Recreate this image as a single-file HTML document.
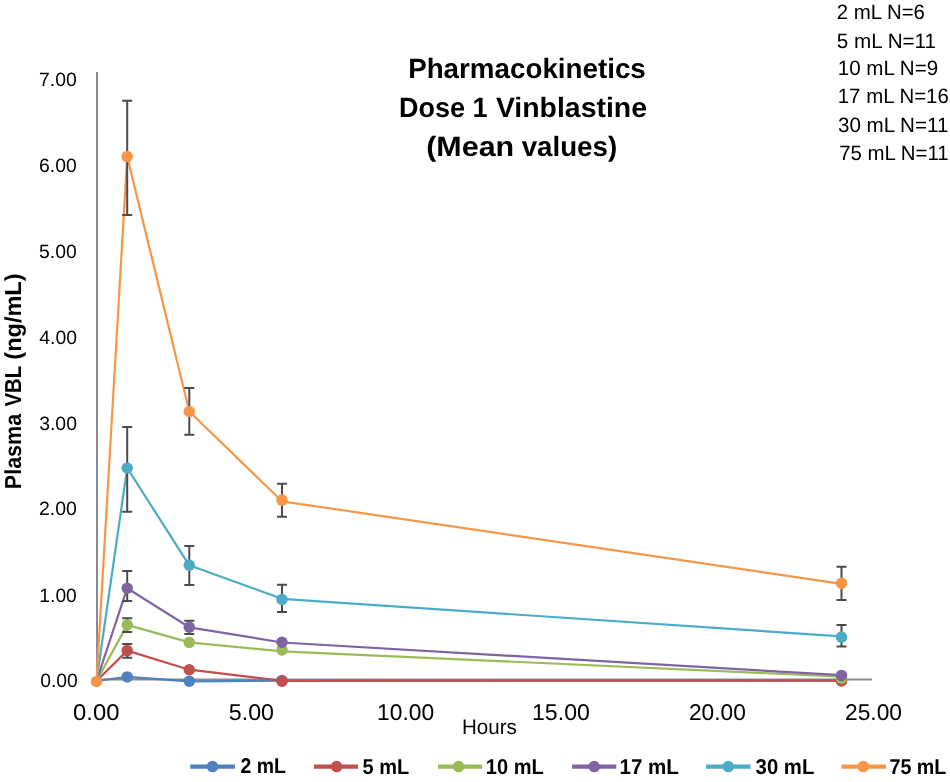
<!DOCTYPE html>
<html><head><meta charset="utf-8"><title>Pharmacokinetics Dose 1 Vinblastine</title><style>
html,body{margin:0;padding:0;background:#fff;}
body{width:950px;height:782px;overflow:hidden;}
svg{display:block;will-change:transform;}
text{font-family:"Liberation Sans",sans-serif;fill:#000;text-rendering:geometricPrecision;}
</style></head><body>
<svg width="950" height="782" viewBox="0 0 950 782">
<rect x="0" y="0" width="950" height="782" fill="#fff"/>
<rect x="96" y="72" width="2" height="609" fill="#8a8b90"/>
<rect x="96" y="678.5" width="776" height="2" fill="#8a8b90"/>
<polyline points="96.5,681 127.2,676.9 189.3,681.3 282.0,680.6 841.5,680.6" fill="none" stroke="#4f81bd" stroke-width="2.2" stroke-linejoin="round"/>
<polyline points="96.5,681 127.2,650.6 189.3,669.7 282.0,680.8 841.5,680.6" fill="none" stroke="#c0504d" stroke-width="2.2" stroke-linejoin="round"/>
<polyline points="96.5,681 127.2,624.9 189.3,642.4 282.0,651.3 841.5,676.6" fill="none" stroke="#9bbb59" stroke-width="2.2" stroke-linejoin="round"/>
<polyline points="96.5,681 127.2,588.2 189.3,627.3 282.0,642.5 841.5,675.2" fill="none" stroke="#8064a2" stroke-width="2.2" stroke-linejoin="round"/>
<polyline points="96.5,681 127.2,468 189.3,565.3 282.0,598.8 841.5,636.4" fill="none" stroke="#4bacc6" stroke-width="2.2" stroke-linejoin="round"/>
<polyline points="96.5,681.4 127.2,156.6 189.3,411.5 282.0,501.3 841.5,583.9" fill="none" stroke="#f79646" stroke-width="2.2" stroke-linejoin="round"/>
<path d="M127.2,644.1V657.8M122.2,644.1H132.2M122.2,657.8H132.2" stroke="#4a4b4f" stroke-width="2" fill="none"/>
<path d="M127.2,618.2V632M122.2,618.2H132.2M122.2,632H132.2" stroke="#4a4b4f" stroke-width="2" fill="none"/>
<path d="M127.2,570.9V601.1M122.2,570.9H132.2M122.2,601.1H132.2" stroke="#4a4b4f" stroke-width="2" fill="none"/>
<path d="M189.3,620.7V634M184.3,620.7H194.3M184.3,634H194.3" stroke="#4a4b4f" stroke-width="2" fill="none"/>
<path d="M127.2,426.9V511.7M122.2,426.9H132.2M122.2,511.7H132.2" stroke="#4a4b4f" stroke-width="2" fill="none"/>
<path d="M189.3,545.9V585M184.3,545.9H194.3M184.3,585H194.3" stroke="#4a4b4f" stroke-width="2" fill="none"/>
<path d="M282.0,584.8V612M277.0,584.8H287.0M277.0,612H287.0" stroke="#4a4b4f" stroke-width="2" fill="none"/>
<path d="M841.5,625V646.6M836.5,625H846.5M836.5,646.6H846.5" stroke="#4a4b4f" stroke-width="2" fill="none"/>
<path d="M127.2,100.7V215M122.2,100.7H132.2M122.2,215H132.2" stroke="#4a4b4f" stroke-width="2" fill="none"/>
<path d="M189.3,387.9V434.8M184.3,387.9H194.3M184.3,434.8H194.3" stroke="#4a4b4f" stroke-width="2" fill="none"/>
<path d="M282.0,483.7V516.7M277.0,483.7H287.0M277.0,516.7H287.0" stroke="#4a4b4f" stroke-width="2" fill="none"/>
<path d="M841.5,566.8V599.9M836.5,566.8H846.5M836.5,599.9H846.5" stroke="#4a4b4f" stroke-width="2" fill="none"/>
<circle cx="127.2" cy="676.9" r="5.75" fill="#4f81bd"/>
<circle cx="189.3" cy="681.3" r="5.75" fill="#4f81bd"/>
<circle cx="282.0" cy="680.6" r="5.75" fill="#4f81bd"/>
<circle cx="841.5" cy="680.6" r="5.75" fill="#4f81bd"/>
<circle cx="127.2" cy="650.6" r="5.75" fill="#c0504d"/>
<circle cx="189.3" cy="669.7" r="5.75" fill="#c0504d"/>
<circle cx="282.0" cy="681.3" r="5.75" fill="#c0504d"/>
<circle cx="841.5" cy="681.0" r="5.75" fill="#c0504d"/>
<circle cx="127.2" cy="624.9" r="5.75" fill="#9bbb59"/>
<circle cx="189.3" cy="642.4" r="5.75" fill="#9bbb59"/>
<circle cx="282.0" cy="650.0" r="5.75" fill="#9bbb59"/>
<circle cx="841.5" cy="678.2" r="5.75" fill="#9bbb59"/>
<circle cx="127.2" cy="588.2" r="5.75" fill="#8064a2"/>
<circle cx="189.3" cy="627.3" r="5.75" fill="#8064a2"/>
<circle cx="282.0" cy="642.3" r="5.75" fill="#8064a2"/>
<circle cx="841.5" cy="675.4" r="5.75" fill="#8064a2"/>
<circle cx="127.2" cy="468" r="5.75" fill="#4bacc6"/>
<circle cx="189.3" cy="565.3" r="5.75" fill="#4bacc6"/>
<circle cx="282.0" cy="599.4" r="5.75" fill="#4bacc6"/>
<circle cx="841.5" cy="637.1" r="5.75" fill="#4bacc6"/>
<circle cx="96.5" cy="681.4" r="5.75" fill="#f79646"/>
<circle cx="127.2" cy="156.6" r="5.75" fill="#f79646"/>
<circle cx="189.3" cy="411.5" r="5.75" fill="#f79646"/>
<circle cx="282.0" cy="500.1" r="5.75" fill="#f79646"/>
<circle cx="841.5" cy="583.3" r="5.75" fill="#f79646"/>
<line x1="190.2" y1="766.6" x2="235" y2="766.6" stroke="#4f81bd" stroke-width="4.3"/>
<circle cx="212.5" cy="766.6" r="5.75" fill="#4f81bd"/>
<line x1="313.9" y1="766.6" x2="358.1" y2="766.6" stroke="#c0504d" stroke-width="4.3"/>
<circle cx="336.6" cy="766.6" r="5.75" fill="#c0504d"/>
<line x1="438" y1="766.6" x2="482.2" y2="766.6" stroke="#9bbb59" stroke-width="4.3"/>
<circle cx="458.6" cy="766.6" r="5.75" fill="#9bbb59"/>
<line x1="572.1" y1="766.6" x2="616.3" y2="766.6" stroke="#8064a2" stroke-width="4.3"/>
<circle cx="594.2" cy="766.6" r="5.75" fill="#8064a2"/>
<line x1="706.1" y1="766.6" x2="750.5" y2="766.6" stroke="#4bacc6" stroke-width="4.3"/>
<circle cx="728.3" cy="766.6" r="5.75" fill="#4bacc6"/>
<line x1="841.4" y1="766.6" x2="886" y2="766.6" stroke="#f79646" stroke-width="4.3"/>
<circle cx="863.3" cy="766.6" r="5.75" fill="#f79646"/>
<text x="40.20" y="687.00" font-size="19.35" font-weight="normal" textLength="37.64" lengthAdjust="spacingAndGlyphs">0.00</text>
<text x="39.33" y="602.00" font-size="19.35" font-weight="normal" textLength="37.47" lengthAdjust="spacingAndGlyphs">1.00</text>
<text x="38.99" y="515.00" font-size="19.35" font-weight="normal" textLength="37.91" lengthAdjust="spacingAndGlyphs">2.00</text>
<text x="39.16" y="430.00" font-size="19.35" font-weight="normal" textLength="37.82" lengthAdjust="spacingAndGlyphs">3.00</text>
<text x="39.23" y="344.00" font-size="19.35" font-weight="normal" textLength="37.78" lengthAdjust="spacingAndGlyphs">4.00</text>
<text x="39.06" y="258.00" font-size="19.35" font-weight="normal" textLength="37.72" lengthAdjust="spacingAndGlyphs">5.00</text>
<text x="39.08" y="172.00" font-size="19.35" font-weight="normal" textLength="37.65" lengthAdjust="spacingAndGlyphs">6.00</text>
<text x="39.00" y="86.00" font-size="19.35" font-weight="normal" textLength="37.75" lengthAdjust="spacingAndGlyphs">7.00</text>
<text x="72.96" y="720.00" font-size="22.8" font-weight="normal" textLength="46.50" lengthAdjust="spacingAndGlyphs">0.00</text>
<text x="228.80" y="720.00" font-size="22.8" font-weight="normal" textLength="45.26" lengthAdjust="spacingAndGlyphs">5.00</text>
<text x="377.10" y="720.00" font-size="22.8" font-weight="normal" textLength="57.07" lengthAdjust="spacingAndGlyphs">10.00</text>
<text x="532.02" y="720.00" font-size="22.8" font-weight="normal" textLength="57.85" lengthAdjust="spacingAndGlyphs">15.00</text>
<text x="688.94" y="720.00" font-size="22.8" font-weight="normal" textLength="56.90" lengthAdjust="spacingAndGlyphs">20.00</text>
<text x="845.04" y="720.00" font-size="22.8" font-weight="normal" textLength="57.01" lengthAdjust="spacingAndGlyphs">25.00</text>
<text x="408.15" y="78.00" font-size="27.9" font-weight="bold" textLength="237.63" lengthAdjust="spacingAndGlyphs">Pharmacokinetics</text>
<text x="398.94" y="117.00" font-size="27.9" font-weight="bold" textLength="65.96" lengthAdjust="spacingAndGlyphs">Dose</text>
<text x="472.50" y="117.00" font-size="27.9" font-weight="bold" textLength="15.07" lengthAdjust="spacingAndGlyphs">1</text>
<text x="495.92" y="117.00" font-size="27.9" font-weight="bold" textLength="151.05" lengthAdjust="spacingAndGlyphs">Vinblastine</text>
<text x="426.20" y="156.00" font-size="27.9" font-weight="bold" textLength="88.02" lengthAdjust="spacingAndGlyphs">(Mean</text>
<text x="521.63" y="156.00" font-size="27.9" font-weight="bold" textLength="95.51" lengthAdjust="spacingAndGlyphs">values)</text>
<text x="836.63" y="19.00" font-size="20.7" font-weight="normal" textLength="88.33" lengthAdjust="spacingAndGlyphs">2 mL N=6</text>
<text x="836.79" y="48.00" font-size="20.7" font-weight="normal" textLength="99.23" lengthAdjust="spacingAndGlyphs">5 mL N=11</text>
<text x="837.76" y="75.00" font-size="20.7" font-weight="normal" textLength="100.38" lengthAdjust="spacingAndGlyphs">10 mL N=9</text>
<text x="837.78" y="103.00" font-size="20.7" font-weight="normal" textLength="111.01" lengthAdjust="spacingAndGlyphs">17 mL N=16</text>
<text x="837.96" y="132.00" font-size="20.7" font-weight="normal" textLength="110.40" lengthAdjust="spacingAndGlyphs">30 mL N=11</text>
<text x="839.24" y="160.00" font-size="20.7" font-weight="normal" textLength="109.43" lengthAdjust="spacingAndGlyphs">75 mL N=11</text>
<text x="462.01" y="734.00" font-size="21.0" font-weight="normal" textLength="54.85" lengthAdjust="spacingAndGlyphs">Hours</text>
<text x="240.55" y="773.00" font-size="21.4" font-weight="bold" textLength="45.40" lengthAdjust="spacingAndGlyphs">2 mL</text>
<text x="362.52" y="774.00" font-size="21.4" font-weight="bold" textLength="46.69" lengthAdjust="spacingAndGlyphs">5 mL</text>
<text x="485.86" y="774.00" font-size="21.4" font-weight="bold" textLength="57.99" lengthAdjust="spacingAndGlyphs">10 mL</text>
<text x="619.46" y="774.00" font-size="21.4" font-weight="bold" textLength="59.42" lengthAdjust="spacingAndGlyphs">17 mL</text>
<text x="755.58" y="774.00" font-size="21.4" font-weight="bold" textLength="58.76" lengthAdjust="spacingAndGlyphs">30 mL</text>
<text x="889.47" y="774.00" font-size="21.4" font-weight="bold" textLength="56.92" lengthAdjust="spacingAndGlyphs">75 mL</text>
<g transform="translate(20.8,0) rotate(-90)">
<text x="-489.22" y="0" font-size="23.1" font-weight="bold" textLength="75.45" lengthAdjust="spacingAndGlyphs">Plasma</text>
<text x="-406.44" y="0" font-size="23.1" font-weight="bold" textLength="40.65" lengthAdjust="spacingAndGlyphs">VBL</text>
<text x="-359.68" y="0" font-size="23.1" font-weight="bold" textLength="86.23" lengthAdjust="spacingAndGlyphs">(ng/mL)</text>
</g>
</svg>
</body></html>
